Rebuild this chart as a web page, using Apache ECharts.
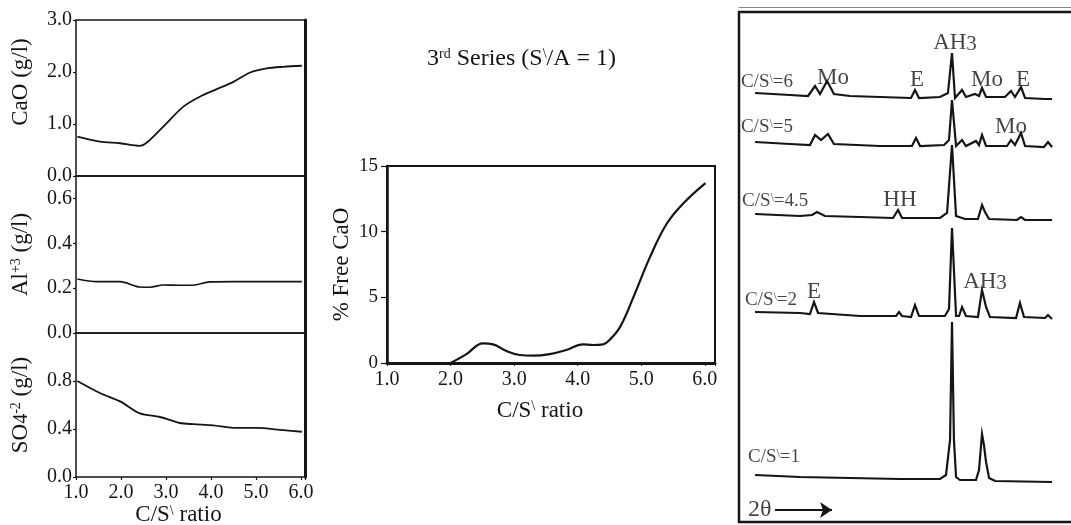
<!DOCTYPE html>
<html>
<head>
<meta charset="utf-8">
<title>C/S ratio series</title>
<script src="https://cdn.jsdelivr.net/npm/echarts@6/dist/echarts.min.js"></script>
<style>
html, body { margin: 0; padding: 0; background: #fff; }
#main { width: 1071px; height: 525px; }
</style>
</head>
<body>
<div id="main"></div>
<script>
// left column: concentration in solution (g/l) vs C/S ratio
const caoConc = [[1.03,0.755],[1.53,0.66],[1.98,0.63],[2.42,0.58],[2.57,0.64],[2.94,0.95],[3.38,1.33],[3.76,1.53],[4.13,1.67],[4.5,1.81],[4.87,1.99],[5.24,2.07],[5.61,2.10],[6.02,2.12]];
const alConc = [[1.03,0.241],[1.46,0.229],[1.98,0.229],[2.42,0.205],[2.64,0.204],[2.94,0.214],[3.3,0.213],[3.6,0.213],[3.97,0.228],[4.5,0.229],[6.02,0.229]];
const so4Conc = [[1.03,0.80],[1.53,0.70],[1.98,0.63],[2.42,0.53],[2.87,0.50],[3.31,0.45],[3.61,0.44],[4.05,0.43],[4.5,0.41],[5.01,0.41],[5.61,0.39],[6.02,0.377]];

// middle: free lime (%) vs C/S ratio
const freeCaO = [[2.0,0],[2.25,0.68],[2.51,1.5],[2.67,1.42],[2.88,0.91],[3.09,0.61],[3.30,0.56],[3.56,0.68],[3.82,0.99],[4.08,1.42],[4.24,1.37],[4.40,1.42],[4.5,1.75],[4.67,2.77],[4.88,5.05],[5.14,8.1],[5.40,10.6],[5.66,12.15],[6.01,13.7]];

// right: XRD patterns, [2θ, intensity above the trace baseline]
const xrdNames = ['C/S=6', 'C/S=5', 'C/S=4.5', 'C/S=2', 'C/S=1'];
const xrdBaselines = [423, 375, 302, 203, 40];
const xrd6 = [[5.07,6],[7.4,4],[8.6,3],[9.07,13],[9.4,5],[9.87,18],[10.33,5],[11.4,3],[13.4,2],[15.47,1],[15.73,9],[16.0,1],[17.4,2],[17.93,6],[18.2,46],[18.4,1],[18.87,9],[19.13,2],[19.73,5],[20.0,3],[20.2,11],[20.47,2],[21.73,2],[22.13,8],[22.4,2],[22.8,12],[23.07,1],[24.4,0],[24.87,0]];
const xrd5 = [[5.07,5],[7.4,3],[8.73,2],[9.07,12],[9.47,7],[9.93,13],[10.33,3],[13.4,1],[15.53,1],[15.8,9],[16.07,1],[17.67,2],[18.0,7],[18.2,47],[18.47,1],[18.87,7],[19.13,1],[19.8,6],[20.0,2],[20.2,12],[20.47,1],[21.87,1],[22.13,7],[22.4,2],[22.8,14],[23.07,1],[24.33,0],[24.6,5],[24.87,0]];
const xrd45 = [[5.07,6],[8.07,4],[8.87,5],[9.2,8],[9.73,4],[12.07,3],[14.27,2],[14.6,10],[14.87,2],[17.4,2],[17.87,7],[18.2,75],[18.47,4],[19.07,1],[19.93,1],[20.2,15],[20.4,8],[20.67,1],[22.53,0],[22.8,3],[23.07,0],[24.87,0]];
const xrd2 = [[5.07,7],[8.07,6],[8.73,5],[9.0,17],[9.27,6],[12.07,3],[14.47,3],[14.67,7],[14.87,3],[15.47,2],[15.73,14],[16.0,3],[17.73,3],[18.0,10],[18.2,91],[18.47,3],[18.67,3],[18.87,12],[19.13,3],[19.93,2],[20.2,29],[20.47,12],[20.73,2],[22.47,1],[22.73,16],[23.0,2],[24.4,1],[24.6,4],[24.87,0]];
const xrd1 = [[5.07,7],[8.07,5],[11.4,4],[14.73,3],[17.4,3],[17.8,7],[18.07,42],[18.2,160],[18.33,42],[18.47,5],[18.73,2],[19.8,2],[20.0,12],[20.2,48],[20.33,37],[20.47,20],[20.67,4],[21.07,1],[24.87,0]];
const xrdTraces = [xrd6, xrd5, xrd45, xrd2, xrd1];

// trace labels and phase labels: [2θ, height, text]
const traceTags = [[4.13,440,'C/S{b|\\}=6'],[4.13,395,'C/S{b|\\}=5'],[4.2,321,'C/S{b|\\}=4.5'],[4.4,222,'C/S{b|\\}=2'],[4.6,65,'C/S{b|\\}=1'],[4.6,12,'{big|2θ}']];
const phaseTags = [[10.27,444,'Mo'],[15.87,442,'E'],[18.4,479,'AH{s|3}'],[20.53,442,'Mo'],[22.93,442,'E'],[22.13,395,'Mo'],[14.73,322,'HH'],[9.0,230,'E'],[20.4,240,'AH{s|3}']];

const INK = '#151515';
const FONT = 'Liberation Serif';
const supRich = size => ({
  sup: { fontSize: Math.round(size * 0.6), lineHeight: Math.round(size * 0.65), verticalAlign: 'top', fontFamily: FONT, color: INK },
  sub: { fontSize: Math.round(size * 0.85), lineHeight: Math.round(size * 0.85), verticalAlign: 'bottom', fontFamily: FONT, color: INK }
});
const oneDec = v => Math.abs(v - Math.round(v * 10) / 10) < 1e-6 ? v.toFixed(1) : '';
const intOnly = v => Math.abs(v - Math.round(v)) < 1e-6 ? v.toFixed(1) : '';

const chart = echarts.init(document.getElementById('main'));

const leftGrids = [
  { left: 76, top: 20, width: 229, height: 156 },
  { left: 76, top: 176, width: 229, height: 157 },
  { left: 76, top: 333, width: 229, height: 144 }
];
const gridBase = { show: true, borderColor: INK, borderWidth: 1.5, outerBoundsMode: 'none', containLabel: false };

const leftX = (i, last) => ({
  type: 'value', gridIndex: i, min: 1, max: 6.09, interval: 1,
  axisLine: { show: false },
  axisTick: { show: last, inside: false, length: 3, lineStyle: { color: INK, width: 1.2 } },
  axisLabel: { show: last, formatter: intOnly, color: INK, fontFamily: FONT, fontSize: 20, margin: 6 },
  splitLine: { show: false },
  name: last ? 'C/S{sup|\\} ratio' : '', nameLocation: 'middle', nameGap: 26,
  nameTextStyle: { color: INK, fontFamily: FONT, fontSize: 23, rich: supRich(23), padding: [0, 24, 0, 0] }
});
const leftY = (i, max, interval, name, shift) => ({
  type: 'value', gridIndex: i, min: 0, max: max, interval: interval,
  axisLine: { show: false },
  axisTick: { show: true, length: 3, lineStyle: { color: INK, width: 1.2 } },
  axisLabel: { formatter: oneDec, showMaxLabel: max === 3, color: INK, fontFamily: FONT, fontSize: 20, margin: 4 },
  splitLine: { show: false },
  name: name, nameLocation: 'middle', nameGap: 44, nameRotate: 90,
  nameTextStyle: { color: INK, fontFamily: FONT, fontSize: 23, rich: supRich(23), padding: [0, 0, 0, shift] }
});
const rightEdge = i => ({
  type: 'value', gridIndex: i, position: 'right', min: 0, max: 1,
  axisLine: { show: true, lineStyle: { color: INK, width: 3 } },
  axisTick: { show: false }, axisLabel: { show: false }, splitLine: { show: false }
});

const option = {
  animation: false,
  backgroundColor: '#fff',
  textStyle: { fontFamily: FONT, color: INK },
  title: {
    text: '3{sup|rd} Series (S{sup|\\}/A = 1)',
    left: 422, top: 42,
    textStyle: { fontFamily: FONT, fontWeight: 'normal', fontSize: 24, color: INK, rich: supRich(24) }
  },
  grid: [
    Object.assign({}, gridBase, leftGrids[0]),
    Object.assign({}, gridBase, leftGrids[1]),
    Object.assign({}, gridBase, leftGrids[2]),
    Object.assign({}, gridBase, { left: 387, top: 166, width: 328, height: 197, borderWidth: 2 }),
    Object.assign({}, gridBase, { left: 739, top: 12, width: 345, height: 510, borderWidth: 2.5 })
  ],
  xAxis: [
    leftX(0, false), leftX(1, false), leftX(2, true),
    {
      type: 'value', gridIndex: 3, min: 1, max: 6.16, interval: 1,
      axisLine: { show: true, lineStyle: { color: INK, width: 3 } },
      axisTick: { show: true, length: 3, lineStyle: { color: INK } },
      axisLabel: { formatter: intOnly, color: INK, fontFamily: FONT, fontSize: 20, margin: 7 },
      splitLine: { show: false },
      name: 'C/S{sup|\\} ratio', nameLocation: 'middle', nameGap: 36,
      nameTextStyle: { color: INK, fontFamily: FONT, fontSize: 23, rich: supRich(23), padding: [0, 22, 0, 0] }
    },
    { type: 'value', gridIndex: 4, min: 4, max: 27, show: false },
    {
      type: 'value', gridIndex: 4, min: 4, max: 27, position: 'top', offset: 5,
      axisLine: { show: true, lineStyle: { color: '#888', width: 1 } },
      axisTick: { show: false }, axisLabel: { show: false }, splitLine: { show: false }
    }
  ],
  yAxis: [
    leftY(0, 3, 1, 'CaO (g/l)', 32),
    leftY(1, 0.7, 0.2, 'Al{sup|+3} (g/l)', 0),
    leftY(2, 1.2, 0.4, 'SO{sub|4}{sup|-2} (g/l)', 0),
    rightEdge(0), rightEdge(1), rightEdge(2),
    {
      type: 'value', gridIndex: 3, min: 0, max: 15, interval: 5,
      axisLine: { show: true, lineStyle: { color: INK, width: 2.5 } },
      axisTick: { show: true, length: 6, lineStyle: { color: INK, width: 1.2 } },
      axisLabel: { color: INK, fontFamily: FONT, fontSize: 19, margin: 9 },
      splitLine: { show: false },
      name: '% Free CaO', nameLocation: 'middle', nameGap: 34, nameRotate: 90,
      nameTextStyle: { color: INK, fontFamily: FONT, fontSize: 23 }
    },
    { type: 'value', gridIndex: 4, min: 0, max: 510, show: false }
  ],
  series: [
    { type: 'line', xAxisIndex: 0, yAxisIndex: 0, data: caoConc, smooth: 0.3, showSymbol: false, lineStyle: { color: INK, width: 1.8 } },
    { type: 'line', xAxisIndex: 1, yAxisIndex: 1, data: alConc, smooth: 0.3, showSymbol: false, lineStyle: { color: INK, width: 1.6 } },
    { type: 'line', xAxisIndex: 2, yAxisIndex: 2, data: so4Conc, smooth: 0.3, showSymbol: false, lineStyle: { color: INK, width: 1.8 } },
    { type: 'line', xAxisIndex: 3, yAxisIndex: 6, data: freeCaO, smooth: 0.4, showSymbol: false, lineStyle: { color: INK, width: 2.2 } }
  ].concat(xrdTraces.map((tr, k) => ({
    type: 'line', name: xrdNames[k], xAxisIndex: 4, yAxisIndex: 7,
    data: tr.map(p => [p[0], xrdBaselines[k] + p[1]]),
    showSymbol: false, clip: false, lineStyle: { color: INK, width: 2.2, join: 'miter' }
  }))).concat([
    {
      type: 'scatter', xAxisIndex: 4, yAxisIndex: 7, symbolSize: 0, silent: true,
      data: traceTags,
      label: {
        show: true, position: 'right', distance: 0, color: INK, fontFamily: FONT, fontSize: 19,
        formatter: p => p.data[2],
        rich: { b: { fontSize: 12, lineHeight: 12, verticalAlign: 'top', color: INK, fontFamily: FONT }, big: { fontSize: 24, color: INK, fontFamily: FONT } }
      },
      markLine: {
        silent: true, symbol: ['none', 'arrow'], symbolSize: 12,
        label: { show: false },
        lineStyle: { color: INK, width: 2, type: 'solid' },
        itemStyle: { color: INK },
        data: [[{ coord: [6.4, 12] }, { coord: [10.2, 12] }]]
      }
    },
    {
      type: 'scatter', xAxisIndex: 4, yAxisIndex: 7, symbolSize: 0, silent: true,
      data: phaseTags,
      label: {
        show: true, position: 'inside', color: INK, fontFamily: FONT, fontSize: 23,
        formatter: p => p.data[2],
        rich: { s: { fontSize: 21, lineHeight: 20, verticalAlign: 'bottom', color: INK, fontFamily: FONT } }
      }
    }
  ])
};

chart.setOption(option);
</script>
</body>
</html>
